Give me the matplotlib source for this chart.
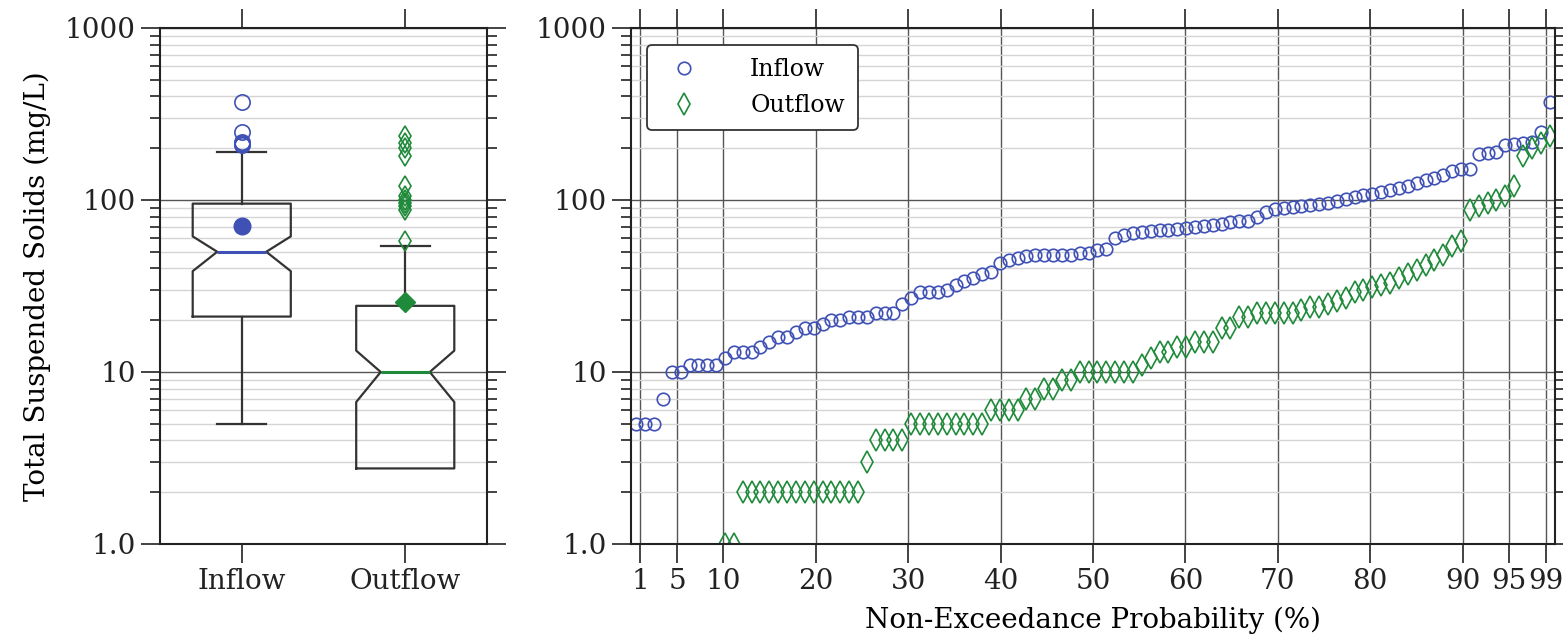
import matplotlib
matplotlib.use("Agg")
import matplotlib.pyplot as plt
import numpy as np
from matplotlib.ticker import FixedLocator, FixedFormatter, LogLocator, NullFormatter

plt.rcParams['font.family'] = ['DejaVu Serif']

# sorted TSS concentrations (mg/L); zeros fall off the log axis
inflow = [5, 5, 5, 7, 10, 10, 11, 11, 11, 11,
          12, 13, 13, 13, 14, 15, 16, 16, 17, 18,
          18, 19, 20, 20, 21, 21, 21, 22, 22, 22,
          25, 27, 29, 29, 29, 30, 32, 34, 35, 37,
          38, 43, 45, 46, 47, 48, 48, 48, 48, 48,
          49, 49, 51, 52, 60, 63, 64, 65, 66, 67,
          67, 68, 69, 70, 71, 72, 73, 74, 75, 76,
          80, 85, 89, 90, 91, 92, 93, 95, 96, 99,
          101, 104, 107, 109, 112, 115, 118, 121, 125, 130,
          135, 140, 148, 152, 152, 186, 188, 190, 210, 212,
          214, 216, 250, 370]

outflow = [0, 0, 0, 0, 0, 0, 0, 0, 0, 0,
           1, 1, 2, 2, 2, 2, 2, 2, 2, 2,
           2, 2, 2, 2, 2, 2, 3, 4, 4, 4,
           4, 5, 5, 5, 5, 5, 5, 5, 5, 5,
           6, 6, 6, 6, 7, 7, 8, 8, 9, 9,
           10, 10, 10, 10, 10, 10, 10, 11, 12, 13,
           13, 14, 14, 15, 15, 15, 18, 18, 21, 21,
           22, 22, 22, 22, 22, 23, 24, 24, 25, 26,
           27, 29, 30, 31, 32, 33, 35, 37, 39, 42,
           45, 48, 54, 58, 88, 92, 96, 100, 105, 120,
           180, 200, 215, 235]

labels = ['Inflow', 'Outflow']
colors = ['#3f51b5', '#1f8a3a']
markers = ['o', 'd']
mean_markers = ['o', 'D']

yticks = [1, 10, 100, 1000]
ytick_labels = ['1.0', '10', '100', '1000']
prob_ticks = [1, 5, 10, 20, 30, 40, 50, 60, 70, 80, 90, 95, 99]

W, H = 1563, 644
fig = plt.figure(figsize=(W / 100, H / 100), dpi=100)
ax1 = fig.add_axes([160 / W, 1 - 544 / H, 327 / W, 516 / H])
ax2 = fig.add_axes([631 / W, 1 - 544 / H, 924 / W, 516 / H])

edge = '#333333'
fs = 20

for ax in (ax1, ax2):
    ax.set_yscale('log', nonpositive='mask')

# --- boxplot panel
bp = ax1.boxplot([inflow, outflow], notch=True, widths=0.6, showmeans=True,
                 whis=1.5, boxprops=dict(color=edge, lw=1.6),
                 whiskerprops=dict(color=edge, lw=1.6),
                 capprops=dict(color=edge, lw=1.6))
for i in range(2):
    bp['medians'][i].set(color=colors[i], lw=2.2)
    bp['means'][i].set(marker=mean_markers[i], markerfacecolor=colors[i],
                       markeredgecolor=colors[i], markersize=12 if i == 0 else 10)
    bp['fliers'][i].set(marker=markers[i], markerfacecolor='none',
                        markeredgecolor=colors[i], markersize=11 if i == 0 else 10,
                        markeredgewidth=1.2)

ax1.set_xlim(0.5, 2.5)
ax1.set_xticks([1, 2])
ax1.set_xticklabels(labels)
ax1.set_ylabel('Total Suspended Solids (mg/L)', fontsize=fs, labelpad=10)

# --- probability plot panel
for i, data in enumerate([inflow, outflow]):
    n = len(data)
    ranks = np.arange(1, n + 1)
    pp = (ranks - 0.4) / (n + 0.2) * 100
    ax2.plot(pp, np.sort(data), linestyle='none', marker=markers[i],
             markerfacecolor='none', markeredgecolor=colors[i],
             markersize=9 if i == 0 else 11, markeredgewidth=1.2,
             label=labels[i])

ax2.set_xlim(0, 100)
ax2.set_xticks(prob_ticks)
ax2.set_xticklabels([str(t) for t in prob_ticks])
ax2.set_xlabel('Non-Exceedance Probability (%)', fontsize=fs, labelpad=8)
ax2.grid(True, axis='x', which='major', color='#555555', lw=1.0)
leg = ax2.legend(loc='upper left', fontsize=17, handletextpad=1.8,
                 borderpad=0.55, labelspacing=0.55, edgecolor=edge,
                 fancybox=True, framealpha=1, bbox_to_anchor=(0.005, 0.99))
leg.get_frame().set_linewidth(1.3)

for ax in (ax1, ax2):
    ax.set_ylim(1, 1000)
    ax.yaxis.set_major_locator(FixedLocator(yticks))
    ax.yaxis.set_major_formatter(FixedFormatter(ytick_labels))
    ax.yaxis.set_minor_locator(LogLocator(base=10, subs=np.arange(2, 10)))
    ax.yaxis.set_minor_formatter(NullFormatter())
    ax.grid(True, axis='y', which='major', color='#555555', lw=1.0)
    ax.grid(True, axis='y', which='minor', color='#d5d5d5', lw=1.0)
    ax.set_axisbelow(True)
    ax.tick_params(which='both', direction='out', top=True, right=True,
                   labelsize=fs, colors='#222222', width=1.2)
    ax.tick_params(which='major', length=14)
    ax.tick_params(which='minor', length=7)
    for s in ax.spines.values():
        s.set_linewidth(1.5)
        s.set_color('#222222')

fig.savefig('out.png', dpi=100)
